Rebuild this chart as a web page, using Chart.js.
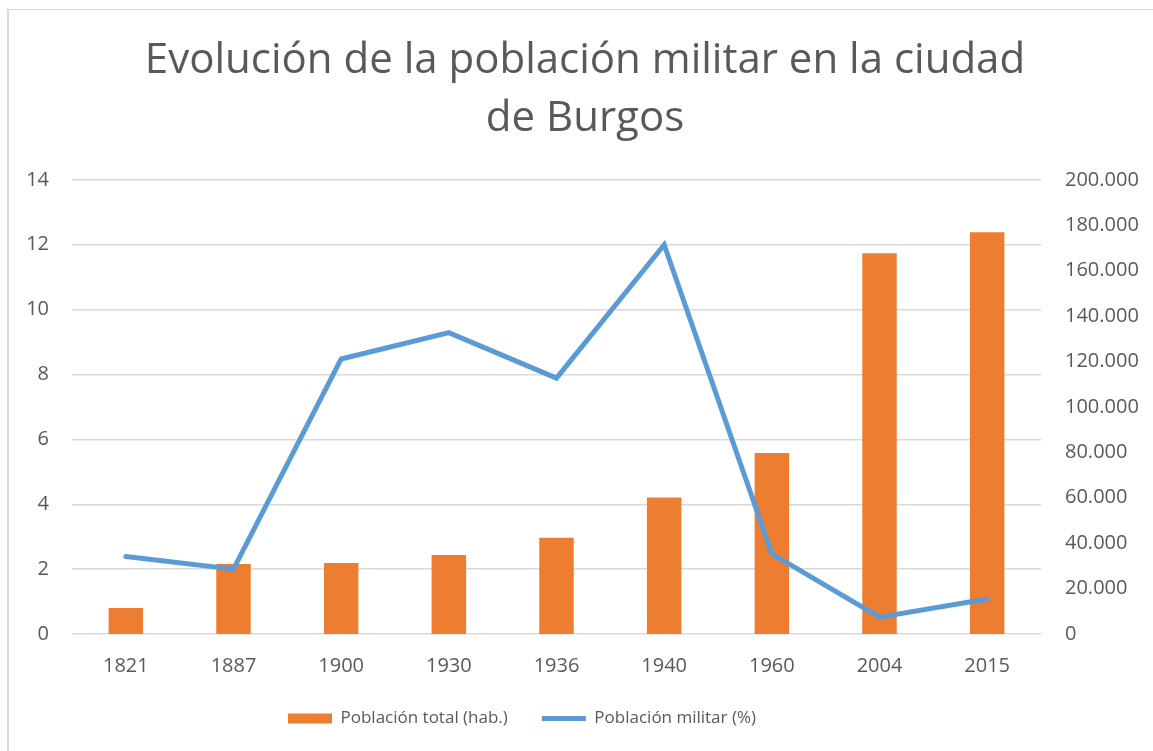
<!DOCTYPE html>
<html>
<head>
<meta charset="utf-8">
<script src="https://cdn.jsdelivr.net/npm/chart.js@4"></script>
<style>
  html, body { margin: 0; padding: 0; background: #fff; overflow: hidden; }
  #frame { position: absolute; left: 7px; top: 9px; width: 1200px; height: 800px;
           border-top: 1px solid #d9d9d9; border-left: 2px solid #d9d9d9; }
  #burgosChart { position: absolute; left: 0; top: 0; }
</style>
</head>
<body>
<div id="frame"></div>
<canvas id="burgosChart" width="1153" height="751"></canvas>
<script>
// Evolución de la población militar - Burgos
const years = ['1821', '1887', '1900', '1930', '1936', '1940', '1960', '2004', '2015'];
const poblacionTotal = [11400, 30800, 31300, 34800, 42400, 60100, 79700, 167700, 177000];
const poblacionMilitar = [2.39, 2.0, 8.48, 9.29, 7.89, 12.0, 2.47, 0.52, 1.08];
const leftTicks = [0, 2, 4, 6, 8, 10, 12, 14];
const rightTicks = [0, 20000, 40000, 60000, 80000, 100000, 120000, 140000, 160000, 180000, 200000];

const grey = '#595959';
const fontFam = "'Open Sans', sans-serif";

// la leyenda de Excel no está centrada: un poco a la izquierda y más arriba
const legendShift = {
    id: 'legendShift',
    afterLayout(chart) {
        chart.legend.left -= 63;
        chart.legend.right -= 63;
        chart.legend.top -= 14;
        chart.legend.bottom -= 14;
    }
};

const ctx = document.getElementById('burgosChart').getContext('2d');
const burgosChart = new Chart(ctx, {
    type: 'bar',
    data: {
        labels: years,
        datasets: [{
            label: 'Población total (hab.)',
            data: poblacionTotal,
            backgroundColor: '#ed7d31',
            yAxisID: 'y1',
            order: 1,
            pointStyle: 'rect',
            barPercentage: 0.32,
            categoryPercentage: 1.0
        }, {
            type: 'line',
            label: 'Población militar (%)',
            data: poblacionMilitar,
            borderColor: '#5b9bd5',
            backgroundColor: '#5b9bd5',
            borderWidth: 5,
            pointRadius: 0,
            pointHoverRadius: 0,
            pointStyle: 'line',
            borderCapStyle: 'round',
            borderJoinStyle: 'miter',
            tension: 0,
            yAxisID: 'y',
            order: 0
        }]
    },
    plugins: [legendShift],
    options: {
        responsive: false,
        animation: false,
        devicePixelRatio: 1,
        layout: { padding: { left: 25, right: 8, top: 24, bottom: 0 } },
        scales: {
            x: {
                grid: { display: false },
                border: { display: false },
                ticks: { color: grey, font: { family: fontFam, size: 20 }, padding: 12 }
            },
            y: {
                position: 'left',
                min: 0,
                max: 14,
                afterBuildTicks: (axis) => { axis.ticks = leftTicks.map(v => ({ value: v })); },
                afterFit: (axis) => { axis.width = 47; },
                grid: { color: '#d9d9d9', lineWidth: 1.5, drawTicks: false },
                border: { display: false },
                ticks: { color: grey, font: { family: fontFam, size: 20 }, padding: 23 }
            },
            y1: {
                position: 'right',
                min: 0,
                max: 200000,
                afterBuildTicks: (axis) => { axis.ticks = rightTicks.map(v => ({ value: v })); },
                afterFit: (axis) => { axis.width = 104; },
                grid: { display: false, drawTicks: false },
                border: { display: false },
                ticks: {
                    color: grey,
                    font: { family: fontFam, size: 20 },
                    padding: 24,
                    callback: (v) => v.toString().replace(/\B(?=(\d{3})+(?!\d))/g, '.')
                }
            }
        },
        plugins: {
            title: {
                display: true,
                text: ['Evolución de la población militar en la ciudad', 'de Burgos'],
                color: grey,
                font: { family: fontFam, size: 42, weight: 'normal', lineHeight: 1.38 },
                padding: { top: 8, bottom: 32 }
            },
            legend: {
                position: 'bottom',
                labels: {
                    color: grey,
                    font: { family: fontFam, size: 17 },
                    usePointStyle: true,
                    pointStyleWidth: 44,
                    boxHeight: 10,
                    padding: 34,
                    sort: (a, b) => a.datasetIndex - b.datasetIndex
                }
            },
            tooltip: { enabled: false }
        }
    }
});
</script>
</body>
</html>
